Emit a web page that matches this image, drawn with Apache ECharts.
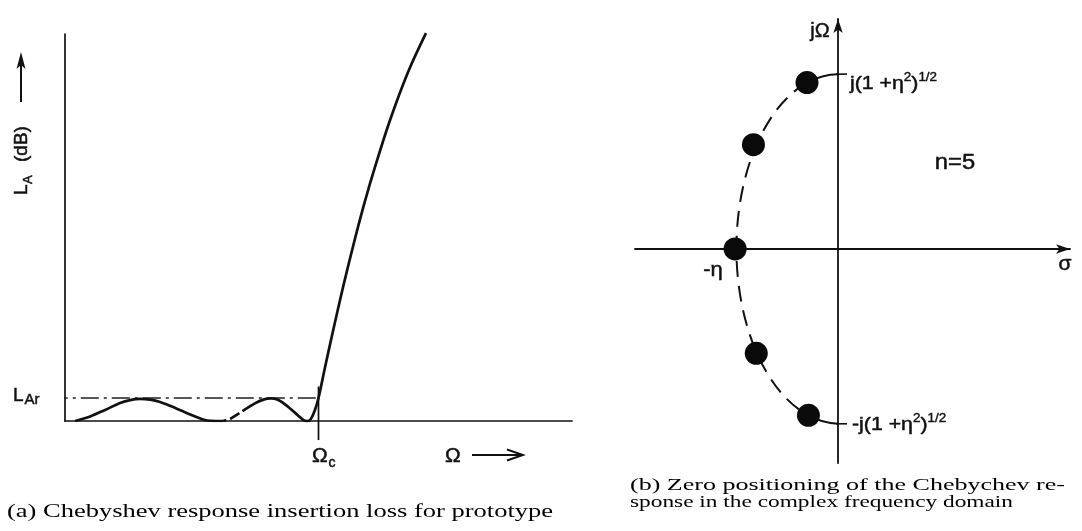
<!DOCTYPE html>
<html>
<head>
<meta charset="utf-8">
<script src="https://cdn.jsdelivr.net/npm/echarts@6/dist/echarts.min.js"></script>
<style>
  html, body { margin: 0; padding: 0; background: #fff; }
  #chart { width: 1082px; height: 531px; }
</style>
</head>
<body>
<div id="chart"></div>
<script>
// (a) Chebyshev insertion loss: Ω normalised so that Ωc = 1, loss in units of the ripple level L_Ar
const rippleOmega  = [0.040, 0.099, 0.158, 0.217, 0.257, 0.296, 0.336, 0.375, 0.435, 0.494, 0.534, 0.561, 0.593, 0.625];
const rippleLoss   = [0.00, 0.20, 0.48, 0.78, 0.91, 0.96, 0.93, 0.83, 0.57, 0.28, 0.11, 0.02, 0.00, 0.00];
const omittedOmega = [0.625, 0.652, 0.700];
const omittedLoss  = [0.00, 0.09, 0.43];
const edgeOmega    = [0.700, 0.751, 0.783, 0.810, 0.842, 0.881, 0.917, 0.941, 0.955, 0.970, 0.986, 1.000,
                      1.026, 1.057, 1.097, 1.144, 1.183, 1.223, 1.282, 1.353, 1.424];
const edgeLoss     = [0.43, 0.78, 0.93, 0.98, 0.91, 0.61, 0.26, 0.04, 0.00, 0.09, 0.48, 1.00,
                      2.35, 3.90, 5.83, 7.93, 9.55, 11.05, 13.08, 15.17, 16.87];
const rippleLevel = 1;   // L_Ar
const cutoff = 1;        // Ωc

// (b) zeros of the n = 5 response in the s-plane
const poleSigma = [-0.22, -0.60, -0.73, -0.58, -0.21];
const poleOmega = [1.18, 0.74, 0.00, -0.74, -1.18];
const eta = 0.73;          // σ-intercept of the ellipse, -η
const omegaEdge = 1.24;    // jΩ-intercept, (1+η²)^½

const SANS = '"Liberation Sans", Arial, sans-serif';
const SERIF = '"Liberation Serif", "Times New Roman", serif';
const INK = '#111';

const pairs = (xs, ys) => xs.map((x, i) => [x, ys[i]]);

function widthScale(text, font, target) {
  const ctx = document.createElement('canvas').getContext('2d');
  ctx.font = font;
  return target / ctx.measureText(text).width;
}

// sans labels get a hairline outline so their weight matches the heavier axis lines
function ink(size, extra) {
  return Object.assign({
    fontSize: size, fontFamily: SANS, fill: INK, stroke: INK, lineWidth: 0.5,
    align: 'left', verticalAlign: 'middle'
  }, extra || {});
}

function label(text, x, y, size, align, scaleX) {
  return {
    type: 'text', x: x, y: y, z: 10, scaleX: scaleX || 1,
    style: ink(size, { text: text, align: align || 'left' })
  };
}

function caption(text, x, y, size, target) {
  const font = size + 'px ' + SERIF;
  return {
    type: 'text', x: x, y: y, z: 10,
    scaleX: widthScale(text, font, target),
    style: {
      text: text, fontSize: size, fontFamily: SERIF, fill: '#000',
      align: 'left', verticalAlign: 'middle'
    }
  };
}

const chart = echarts.init(document.getElementById('chart'), null, { renderer: 'canvas' });

const hiddenAxis = {
  axisTick: { show: false },
  axisLabel: { show: false },
  splitLine: { show: false }
};

const mainStyle = { fontSize: 19, fontFamily: SANS, fill: INK, stroke: INK, lineWidth: 0.5 };
const supStyle = { fontSize: 12, fontFamily: SANS, fill: INK, stroke: INK, lineWidth: 0.4, padding: [0, 0, 12, 0] };

const option = {
  backgroundColor: '#fff',
  animation: false,
  grid: [
    { left: 65, top: 34, width: 507, height: 387, outerBoundsMode: 'none' },
    { left: 635, top: 19, width: 435, height: 444, outerBoundsMode: 'none' }
  ],
  xAxis: [
    Object.assign({
      gridIndex: 0, type: 'value', min: 0, max: 2,
      axisLine: { onZero: true, lineStyle: { color: INK, width: 1.7 } }
    }, hiddenAxis),
    Object.assign({
      gridIndex: 1, type: 'value', min: -1.44, max: 1.645,
      axisLine: {
        onZero: true, symbol: ['none', 'arrow'], symbolSize: [7, 14],
        lineStyle: { color: INK, width: 1.8 }
      }
    }, hiddenAxis)
  ],
  yAxis: [
    Object.assign({
      gridIndex: 0, type: 'value', min: 0, max: 16.83,
      axisLine: { onZero: true, lineStyle: { color: INK, width: 1.7 } }
    }, hiddenAxis),
    Object.assign({
      gridIndex: 1, type: 'value', min: -1.518, max: 1.631,
      axisLine: {
        onZero: true, symbol: ['none', 'arrow'], symbolSize: [7, 14],
        lineStyle: { color: INK, width: 1.8 }
      }
    }, hiddenAxis)
  ],
  series: [
    // ripple level L_Ar, dash-dot, running from the label to Ωc
    {
      type: 'line', xAxisIndex: 0, yAxisIndex: 0, clip: false, silent: true, z: 2,
      showSymbol: false,
      data: [[-0.06, rippleLevel], [cutoff, rippleLevel]],
      lineStyle: { color: '#222', width: 1.6, type: [18, 5, 3, 5] }
    },
    // Ωc tick through the frequency axis
    {
      type: 'line', xAxisIndex: 0, yAxisIndex: 0, clip: false, silent: true, z: 2,
      showSymbol: false,
      data: [[cutoff, rippleLevel * 1.5], [cutoff, -rippleLevel * 0.83]],
      lineStyle: { color: INK, width: 1.7 }
    },
    // passband ripples
    {
      type: 'line', xAxisIndex: 0, yAxisIndex: 0, z: 3, showSymbol: false,
      smooth: 0.35,
      data: pairs(rippleOmega, rippleLoss),
      lineStyle: { color: INK, width: 2.7 }
    },
    // omitted ripples
    {
      type: 'line', xAxisIndex: 0, yAxisIndex: 0, z: 3, showSymbol: false,
      data: pairs(omittedOmega, omittedLoss),
      lineStyle: { color: INK, width: 2.7, type: [3, 4, 11, 4] }
    },
    // last ripple and stopband rise
    {
      type: 'line', xAxisIndex: 0, yAxisIndex: 0, z: 3, showSymbol: false, clip: false,
      smooth: 0.35,
      data: pairs(edgeOmega, edgeLoss),
      lineStyle: { color: INK, width: 2.7 }
    },
    // half ellipse carrying the zeros, with the ±j(1+η²)^½ ticks
    {
      type: 'custom', xAxisIndex: 1, yAxisIndex: 1, z: 2, silent: true,
      data: [[eta, omegaEdge]],
      renderItem: function (params, api) {
        const c = api.coord([0, 0]);
        const left = api.coord([-api.value(0), 0]);
        const top = api.coord([0, api.value(1)]);
        const rx = c[0] - left[0];
        const ry = c[1] - top[1];
        const bottom = [c[0], c[1] + ry];
        const p1 = api.coord([poleSigma[0], poleOmega[0]]);
        const p5 = api.coord([poleSigma[4], poleOmega[4]]);
        const arc = (a, b) => 'M' + a[0] + ' ' + a[1] + ' A' + rx + ' ' + ry + ' 0 0 0 ' + b[0] + ' ' + b[1];
        const solid = { stroke: INK, lineWidth: 2, fill: null };
        return {
          type: 'group',
          children: [
            { type: 'path', shape: { pathData: arc(top, p1) }, style: solid },
            { type: 'path', shape: { pathData: arc(p1, p5) }, style: { stroke: INK, lineWidth: 2, fill: null, lineDash: [16, 9] } },
            { type: 'path', shape: { pathData: arc(p5, bottom) }, style: solid },
            { type: 'line', shape: { x1: top[0] - 2, y1: top[1], x2: top[0] + 9, y2: top[1] }, style: { stroke: INK, lineWidth: 1.6 } },
            { type: 'line', shape: { x1: bottom[0] - 2, y1: bottom[1], x2: bottom[0] + 9, y2: bottom[1] }, style: { stroke: INK, lineWidth: 1.6 } }
          ]
        };
      }
    },
    // the five zeros
    {
      type: 'scatter', xAxisIndex: 1, yAxisIndex: 1, z: 4, silent: true,
      symbol: 'circle', symbolSize: 23,
      data: pairs(poleSigma, poleOmega),
      itemStyle: { color: '#0a0a0a', opacity: 1 }
    }
  ],
  graphic: {
    elements: [
      // vertical axis title L_A (dB) with arrow
      {
        type: 'group', x: 22, y: 195, rotation: Math.PI / 2,
        children: [
          { type: 'text', x: 0, y: 0, style: ink(19, { text: 'L' }) },
          { type: 'text', x: 11, y: 6, style: ink(13, { text: 'A' }) },
          { type: 'text', x: 33, y: 0, style: ink(19, { text: '(dB)' }) }
        ]
      },
      { type: 'line', shape: { x1: 21, y1: 102, x2: 21, y2: 62 }, style: { stroke: INK, lineWidth: 2 } },
      { type: 'polygon', shape: { points: [[21, 52], [16.5, 69], [21, 65], [25.5, 69]] }, style: { fill: INK } },

      // L_Ar
      label('L', 13, 396, 19),
      label('Ar', 24.5, 400, 15),

      // Ωc and Ω →
      label('Ω', 312, 456, 21),
      label('c', 328.5, 463, 14),
      label('Ω', 445, 456, 21),
      { type: 'line', shape: { x1: 472, y1: 455, x2: 522, y2: 455 }, style: { stroke: INK, lineWidth: 1.9 } },
      { type: 'polyline', shape: { points: [[507, 449.5], [523, 455], [507, 460.5]] }, style: { stroke: INK, lineWidth: 1.9, fill: null } },

      // s-plane labels
      label('jΩ', 820, 31, 20, 'center'),
      label('n=5', 955, 163, 22, 'center', 1.08),
      label('-η', 713, 270, 20, 'center', 1.1),
      label('σ', 1065, 264, 21, 'center'),
      {
        type: 'text', x: 850, y: 84, z: 10, scaleX: 1.12,
        style: {
          text: '{m|j(1 +η}{s|2}{m|)}{s|1/2}',
          rich: { m: mainStyle, s: supStyle },
          align: 'left', verticalAlign: 'middle'
        }
      },
      {
        type: 'text', x: 852, y: 425, z: 10, scaleX: 1.12,
        style: {
          text: '{m|-j(1 +η}{s|2}{m|)}{s|1/2}',
          rich: { m: mainStyle, s: supStyle },
          align: 'left', verticalAlign: 'middle'
        }
      },

      // sub-captions
      caption('(a) Chebyshev response insertion loss for prototype', 7, 512, 18.5, 546),
      caption('(b) Zero positioning of the Chebychev re-', 630, 486, 17, 435),
      caption('sponse in the complex frequency domain', 630, 503, 17, 383)
    ]
  }
};

chart.setOption(option);
</script>
</body>
</html>
